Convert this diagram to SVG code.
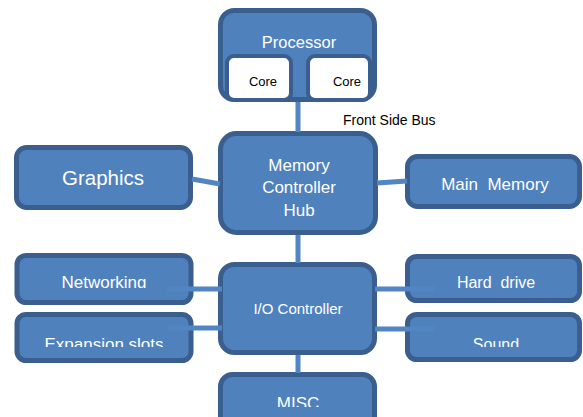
<svg xmlns="http://www.w3.org/2000/svg" width="583" height="417" viewBox="0 0 583 417">
<style>
.box{fill:#4f81bd;stroke:#3a5f8e;stroke-width:5}
.core{fill:#ffffff;stroke:#3a5f8e;stroke-width:4}
.wt{font-family:"Liberation Sans","Open Sans",sans-serif;fill:#ffffff;text-anchor:middle;font-size:17px}
.bt{font-family:"Liberation Sans","Open Sans",sans-serif;fill:#000000;font-size:14px}
.con{stroke:#5185c3;stroke-width:5;fill:none}
</style>
<defs>
<clipPath id="c1" clipPathUnits="userSpaceOnUse"><rect x="0" y="0" width="583" height="288"/></clipPath>
<clipPath id="c2" clipPathUnits="userSpaceOnUse"><rect x="0" y="0" width="583" height="347"/></clipPath>
<clipPath id="c3" clipPathUnits="userSpaceOnUse"><rect x="0" y="0" width="583" height="407"/></clipPath>
</defs>
<rect width="583" height="417" fill="#ffffff"/>
<g id="processor">
<rect class="box" x="220.5" y="10.5" width="154" height="89" rx="14"/>
<text class="wt" x="299" y="48" style="font-size:16.5px">Processor</text>
<rect class="core" x="227" y="56" width="64" height="44" rx="7"/>
<rect class="core" x="308" y="56" width="62" height="44" rx="7"/>
<text class="bt" x="263" y="86" text-anchor="middle" style="font-size:13px">Core</text>
<text class="bt" x="347" y="86" text-anchor="middle" style="font-size:13px">Core</text>
</g>
<g id="mch">
<rect class="box" x="220.5" y="133.5" width="155" height="99" rx="16"/>
<text class="wt" x="299" y="171">Memory</text>
<text class="wt" x="299" y="193">Controller</text>
<text class="wt" x="299" y="216">Hub</text>
</g>
<g id="graphics">
<rect class="box" x="16.5" y="147.5" width="174" height="60" rx="10"/>
<text class="wt" x="103" y="185" style="font-size:20.5px">Graphics</text>
</g>
<g id="mainmemory">
<rect class="box" x="407.5" y="156.5" width="172" height="50" rx="10"/>
<text class="wt" x="495" y="190" xml:space="preserve">Main  Memory</text>
</g>
<g id="networking">
<rect class="box" x="17" y="255.5" width="174" height="47" rx="9"/>
<text class="wt" x="104" y="288" clip-path="url(#c1)">Networking</text>
</g>
<g id="expansion">
<rect class="box" x="17" y="314.5" width="174" height="46" rx="9"/>
<text class="wt" x="104" y="350" clip-path="url(#c2)">Expansion slots</text>
</g>
<g id="io">
<rect class="box" x="220.5" y="264.5" width="154" height="88" rx="14"/>
<text class="wt" x="298" y="314" style="font-size:15px">I/O Controller</text>
</g>
<g id="misc">
<rect class="box" x="220.5" y="374.5" width="154" height="60" rx="12"/>
<text class="wt" x="298" y="409" clip-path="url(#c3)">MISC</text>
</g>
<g id="harddrive">
<rect class="box" x="407.5" y="256.5" width="172" height="44" rx="9"/>
<text class="wt" x="496" y="288" style="font-size:16px" xml:space="preserve">Hard  drive</text>
</g>
<g id="sound">
<rect class="box" x="407.5" y="314.5" width="172" height="45" rx="9"/>
<text class="wt" x="496" y="350" style="font-size:16px" clip-path="url(#c2)">Sound</text>
</g>
<g id="connectors">
<line class="con" x1="298" y1="102" x2="298" y2="132"/>
<line class="con" x1="298" y1="235" x2="298" y2="263"/>
<line class="con" x1="298" y1="355" x2="298" y2="373"/>
<line class="con" x1="192" y1="179" x2="220" y2="184"/>
<line class="con" x1="377" y1="183" x2="407" y2="181"/>
<line class="con" x1="167" y1="289" x2="222" y2="289"/>
<line class="con" x1="167" y1="328" x2="222" y2="328"/>
<line class="con" x1="375" y1="289" x2="435" y2="289"/>
<line class="con" x1="375" y1="329" x2="435" y2="329"/>
</g>
<text class="bt" x="343" y="125">Front Side Bus</text>
</svg>
